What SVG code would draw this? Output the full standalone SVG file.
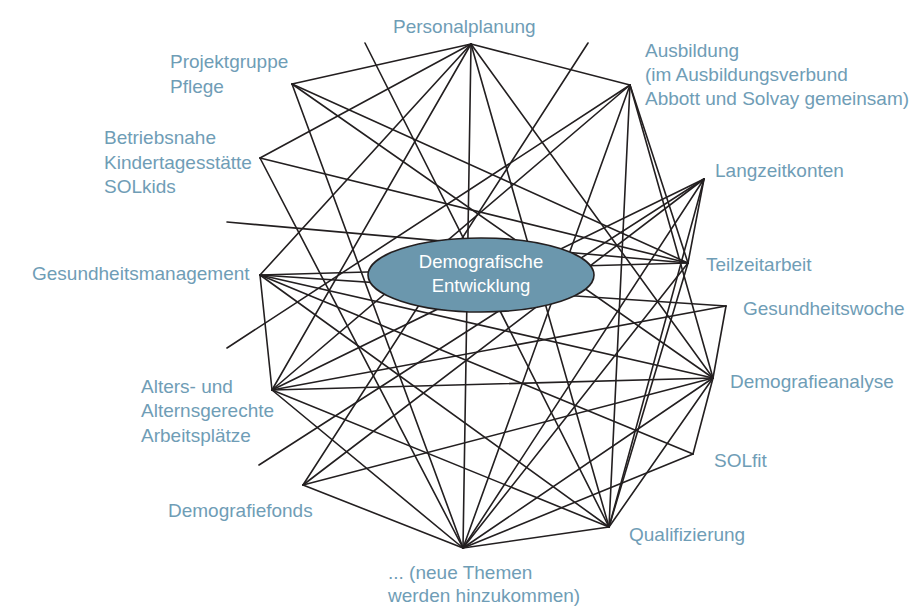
<svg xmlns="http://www.w3.org/2000/svg" width="913" height="607" viewBox="0 0 913 607">
<style>
.l{stroke:#231f20;stroke-width:1.6;fill:none;stroke-linecap:round}
.t{font-family:"Liberation Sans",Arial,sans-serif;font-size:19px;fill:#6f9db6}
.c{font-family:"Liberation Sans",Arial,sans-serif;font-size:18.5px;fill:#ffffff;text-anchor:middle}
</style>
<rect width="913" height="607" fill="#ffffff"/>
<g id="connectors">
<line class="l" x1="471" y1="44" x2="292" y2="84"/>
<line class="l" x1="471" y1="44" x2="260" y2="158"/>
<line class="l" x1="471" y1="44" x2="260" y2="275"/>
<line class="l" x1="471" y1="44" x2="272" y2="390"/>
<line class="l" x1="471" y1="44" x2="463" y2="548"/>
<line class="l" x1="471" y1="44" x2="609" y2="527"/>
<line class="l" x1="471" y1="44" x2="713" y2="378"/>
<line class="l" x1="471" y1="44" x2="630" y2="85"/>
<line class="l" x1="292" y1="84" x2="688" y2="263"/>
<line class="l" x1="292" y1="84" x2="713" y2="378"/>
<line class="l" x1="292" y1="84" x2="463" y2="548"/>
<line class="l" x1="260" y1="158" x2="688" y2="263"/>
<line class="l" x1="260" y1="158" x2="463" y2="548"/>
<line class="l" x1="260" y1="275" x2="272" y2="390"/>
<line class="l" x1="260" y1="275" x2="688" y2="263"/>
<line class="l" x1="260" y1="275" x2="726" y2="306"/>
<line class="l" x1="260" y1="275" x2="713" y2="378"/>
<line class="l" x1="260" y1="275" x2="693" y2="454"/>
<line class="l" x1="260" y1="275" x2="609" y2="527"/>
<line class="l" x1="272" y1="390" x2="630" y2="85"/>
<line class="l" x1="272" y1="390" x2="726" y2="306"/>
<line class="l" x1="272" y1="390" x2="713" y2="378"/>
<line class="l" x1="272" y1="390" x2="609" y2="527"/>
<line class="l" x1="272" y1="390" x2="463" y2="548"/>
<line class="l" x1="272" y1="390" x2="704" y2="179"/>
<line class="l" x1="303" y1="485" x2="713" y2="378"/>
<line class="l" x1="303" y1="485" x2="463" y2="548"/>
<line class="l" x1="303" y1="485" x2="588" y2="43"/>
<line class="l" x1="303" y1="485" x2="704" y2="179"/>
<line class="l" x1="630" y1="85" x2="227" y2="348"/>
<line class="l" x1="630" y1="85" x2="463" y2="548"/>
<line class="l" x1="630" y1="85" x2="609" y2="527"/>
<line class="l" x1="630" y1="85" x2="688" y2="263"/>
<line class="l" x1="630" y1="85" x2="713" y2="378"/>
<line class="l" x1="704" y1="179" x2="688" y2="263"/>
<line class="l" x1="704" y1="179" x2="609" y2="527"/>
<line class="l" x1="704" y1="179" x2="463" y2="548"/>
<line class="l" x1="704" y1="179" x2="259" y2="465"/>
<line class="l" x1="688" y1="263" x2="609" y2="527"/>
<line class="l" x1="688" y1="263" x2="463" y2="548"/>
<line class="l" x1="227" y1="222" x2="688" y2="263"/>
<line class="l" x1="365" y1="43" x2="609" y2="527"/>
<line class="l" x1="726" y1="306" x2="713" y2="378"/>
<line class="l" x1="713" y1="378" x2="693" y2="454"/>
<line class="l" x1="713" y1="378" x2="609" y2="527"/>
<line class="l" x1="713" y1="378" x2="463" y2="548"/>
<line class="l" x1="693" y1="454" x2="463" y2="548"/>
<line class="l" x1="609" y1="527" x2="463" y2="548"/>
</g>
<g id="center">
<ellipse cx="481" cy="275" rx="113" ry="37" fill="#6b97ad" stroke="#231f20" stroke-width="1.6"/>
<text class="c" x="481" y="268">Demografische</text>
<text class="c" x="481" y="292">Entwicklung</text>
</g>
<g id="n-personalplanung"><text class="t" x="393" y="33">Personalplanung</text></g>
<g id="n-ausbildung"><text class="t" x="645" y="57">Ausbildung</text><text class="t" x="645" y="81">(im Ausbildungsverbund</text><text class="t" x="645" y="105">Abbott und Solvay gemeinsam)</text></g>
<g id="n-projektgruppe"><text class="t" x="170" y="68">Projektgruppe</text><text class="t" x="170" y="93">Pflege</text></g>
<g id="n-kita"><text class="t" x="104" y="144">Betriebsnahe</text><text class="t" x="104" y="169">Kindertagesstätte</text><text class="t" x="104" y="193">SOLkids</text></g>
<g id="n-langzeit"><text class="t" x="715" y="177">Langzeitkonten</text></g>
<g id="n-teilzeit"><text class="t" x="706" y="271">Teilzeitarbeit</text></g>
<g id="n-gesundheitsmanagement"><text class="t" x="32" y="280">Gesundheitsmanagement</text></g>
<g id="n-gesundheitswoche"><text class="t" x="743" y="315">Gesundheitswoche</text></g>
<g id="n-demografieanalyse"><text class="t" x="730" y="388">Demografieanalyse</text></g>
<g id="n-alters"><text class="t" x="141" y="393">Alters- und</text><text class="t" x="141" y="417">Alternsgerechte</text><text class="t" x="141" y="442">Arbeitsplätze</text></g>
<g id="n-solfit"><text class="t" x="714" y="467">SOLfit</text></g>
<g id="n-demografiefonds"><text class="t" x="168" y="517">Demografiefonds</text></g>
<g id="n-qualifizierung"><text class="t" x="629" y="541">Qualifizierung</text></g>
<g id="n-neue"><text class="t" x="388" y="579">... (neue Themen</text><text class="t" x="388" y="602">werden hinzukommen)</text></g>
</svg>
